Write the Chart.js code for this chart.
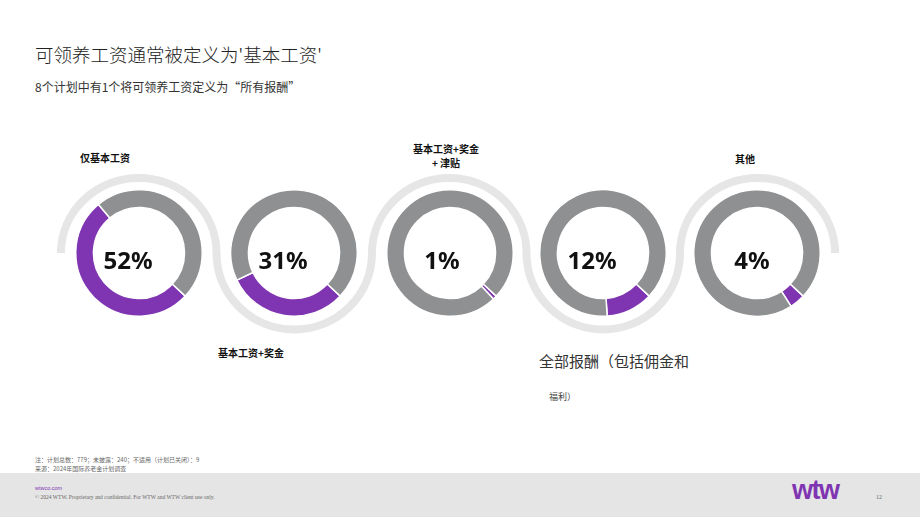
<!DOCTYPE html>
<html>
<head>
<meta charset="utf-8">
<script src="https://cdn.jsdelivr.net/npm/chart.js@4.4.1/dist/chart.umd.min.js"></script>
<style>
  html, body { margin:0; padding:0; background:#fff; }
  #page { position:relative; width:920px; height:518px; overflow:hidden; font-family:"Noto Sans CJK SC","Noto Sans",sans-serif; color:#222; }
  .abs { position:absolute; white-space:nowrap; }
  canvas.d { position:absolute; }
  #title { left:35px; top:41px; font-size:18.5px; font-weight:300; color:#222; }
  #subtitle { left:35px; top:78px; font-size:12px; color:#333; }
  .lbl { font-size:10px; font-weight:700; color:#111; }
  #footband { left:0; top:473px; width:920px; height:44px; background:#e5e5e5; }
  .foot { font-size:5.5px; color:#666; font-family:"Liberation Serif",serif; }
  .note { font-size:6px; color:#666; }
</style>
</head>
<body>
<div id="page">
  <svg class="abs" style="left:0;top:0" width="920" height="518">
    <path id="snake" d="M 61 249 L 61 253 A 77.75 75 0 0 1 216.5 253 A 77.75 76.5 0 0 0 372 253 A 77.25 75 0 0 1 526.5 253 A 76.75 76.5 0 0 0 680 253 A 77.5 75 0 0 1 835 253 L 835 249"
      fill="none" stroke="#e6e6e6" stroke-width="8" stroke-linecap="round"/>
  </svg>
  <div id="title" class="abs">可领养工资通常被定义为'基本工资'</div>
  <div id="subtitle" class="abs">8个计划中有1个将可领养工资定义为“所有报酬”</div>

  <div class="abs lbl" style="left:80px;top:150px;">仅基本工资</div>
  <div class="abs lbl" style="left:406px;top:142px;width:80px;text-align:center;line-height:14px;">基本工资+奖金<br>+ 津贴</div>
  <div class="abs lbl" style="left:735px;top:151px;">其他</div>
  <div class="abs lbl" style="left:218px;top:345px;">基本工资+奖金</div>
  <div class="abs" style="left:539px;top:350px;font-size:15px;color:#333;">全部报酬（包括佣金和</div>
  <div class="abs" style="left:549px;top:390px;font-size:9px;color:#444;">福利）</div>

  <div class="abs note" style="left:35px;top:455px;">注：计划总数：779；未披露：240；不适用（计划已关闭）：9</div>
  <div class="abs note" style="left:35px;top:464px;">来源：2024年国际养老金计划调查</div>

  <div id="footband" class="abs"></div>
  <div class="abs" style="left:35px;top:485px;font-size:5.5px;color:#7f35b2;font-family:'Liberation Sans',sans-serif;">wtwco.com</div>
  <div class="abs foot" style="left:35px;top:494px;">© 2024 WTW. Proprietary and confidential. For WTW and WTW client use only.</div>
  <div class="abs" style="left:792px;top:475px;font-size:27px;font-weight:700;color:#7f35b2;font-family:'Liberation Sans',sans-serif;letter-spacing:-1.5px;">wtw</div>
  <div class="abs foot" style="left:876px;top:494px;font-size:6px;">12</div>
</div>
<script>
// ---- data ----
const categories = ["仅基本工资", "基本工资+奖金", "基本工资+奖金 + 津贴", "全部报酬（包括佣金和福利）", "其他"];
const shareValues = [52, 31, 1, 12, 4];
const restValues = shareValues.map(v => 100 - v);
const valueLabels = ["52%", "31%", "1%", "12%", "4%"];

// ---- layout (positions, not data) ----
const centersX = [139, 294, 450, 603, 757];
const centerY = 253;
const textDx = [-11, -11, -8, -11, -5];
const textDy = 9.5;
const SIZE = 128;

const PURPLE = "#7f35b2";
const GREY = "#8f9092";

const page = document.getElementById("page");
categories.forEach((cat, i) => {
  const cv = document.createElement("canvas");
  cv.className = "d";
  cv.width = SIZE; cv.height = SIZE;
  cv.style.width = SIZE + "px"; cv.style.height = SIZE + "px";
  cv.style.left = (centersX[i] - SIZE / 2) + "px";
  cv.style.top = (centerY - SIZE / 2) + "px";
  page.appendChild(cv);
  const centerText = {
    id: "centerText" + i,
    afterDraw(chart) {
      const meta = chart.getDatasetMeta(0).data[0];
      const ctx = chart.ctx;
      ctx.save();
      ctx.font = "700 24px 'Noto Sans', 'Open Sans', sans-serif";
      ctx.fillStyle = "#111";
      ctx.textAlign = "center";
      ctx.textBaseline = "middle";
      ctx.fillText(valueLabels[i], meta.x + textDx[i], meta.y + textDy);
      ctx.restore();
    }
  };
  new Chart(cv, {
    type: "doughnut",
    data: {
      labels: [cat, "其他选项"],
      datasets: [{
        data: [shareValues[i], restValues[i]],
        backgroundColor: [PURPLE, GREY],
        borderColor: "#ffffff",
        borderWidth: 1.5,
        hoverOffset: 0
      }]
    },
    options: {
      responsive: false,
      animation: false,
      rotation: 133,
      cutout: "72%",
      layout: { padding: 0 },
      plugins: { legend: { display: false }, tooltip: { enabled: false } }
    },
    plugins: [centerText]
  });
});
</script>
</body>
</html>
